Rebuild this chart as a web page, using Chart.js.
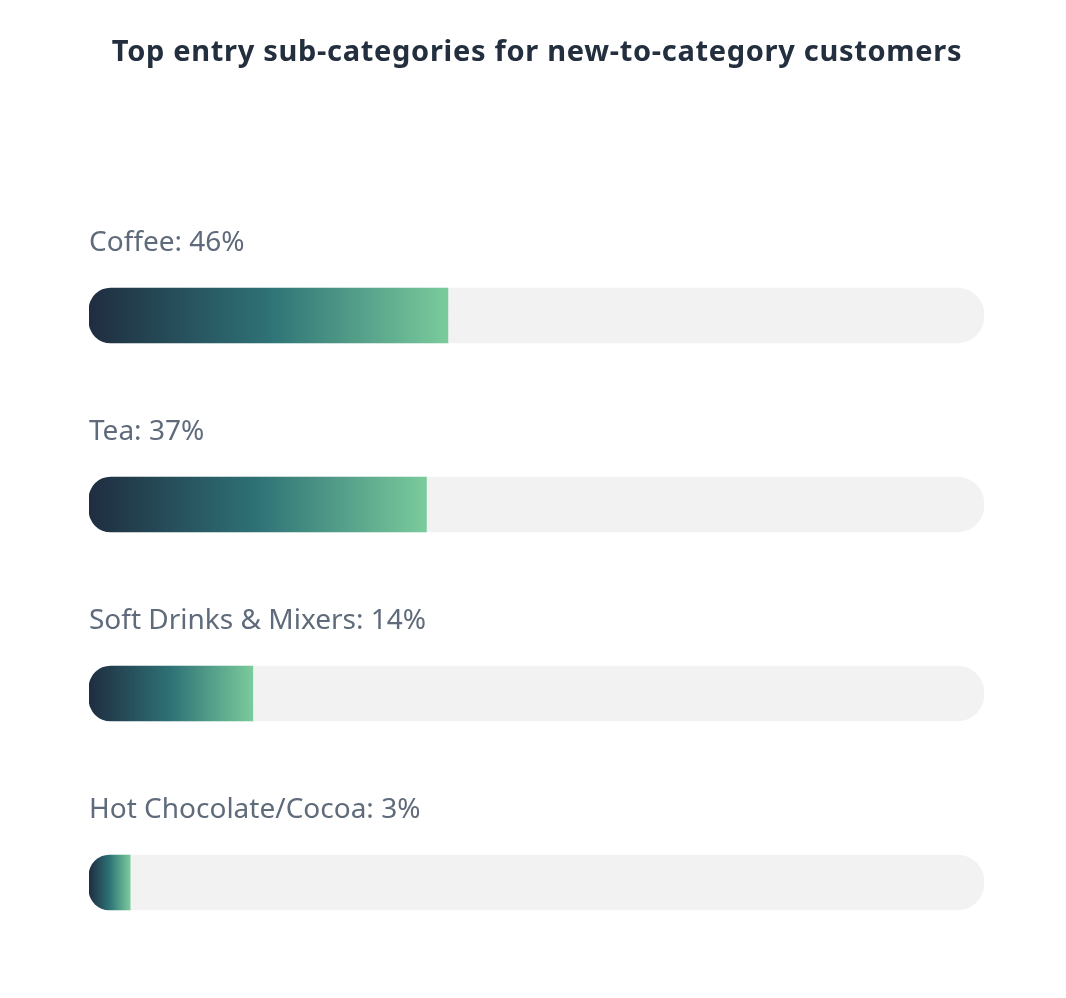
<!DOCTYPE html>
<html>
<head>
<meta charset="utf-8">
<script src="https://cdn.jsdelivr.net/npm/chart.js@4/dist/chart.umd.min.js"></script>
<style>
  html, body { margin: 0; padding: 0; background: #ffffff; }
  #wrap { width: 1066px; height: 998px; }
</style>
</head>
<body>
<div id="wrap"><canvas id="c" width="1066" height="998"></canvas></div>
<script>
const categories = ["Coffee", "Tea", "Soft Drinks & Mixers", "Hot Chocolate/Cocoa"];
const shares = [46, 37, 14, 3];            // percentages shown in the labels
const barFill = [40.1, 37.7, 18.3, 4.6];   // bar lengths (% of track)
const trackMax = [100, 100, 100, 100];
const titleText = 'Top entry sub-categories for new-to-category customers';

const LEFT = 89, RIGHT = 984;

const labelPlugin = {
  id: 'rowLabels',
  afterDatasetsDraw(chart) {
    const ctx = chart.ctx;
    const meta = chart.getDatasetMeta(1);
    ctx.save();
    ctx.font = '28px "Noto Sans", sans-serif';
    ctx.fillStyle = '#5f6b7a';
    ctx.textAlign = 'left';
    ctx.textBaseline = 'alphabetic';
    meta.data.forEach((bar, i) => {
      const top = bar.y - bar.height / 2;
      ctx.fillText(categories[i] + ': ' + shares[i] + '%', chart.chartArea.left, top - 37);
    });
    // title
    ctx.font = 'bold 29px "Noto Sans", sans-serif';
    ctx.fillStyle = '#232f3e';
    ctx.textAlign = 'center';
    if ('letterSpacing' in ctx) ctx.letterSpacing = '0.7px';
    ctx.fillText(titleText, chart.width / 2 + 4, 61);
    ctx.restore();
  }
};

function fillGradient(context) {
  const chart = context.chart;
  const area = chart.chartArea;
  if (!area) return '#2e7276';
  const xScale = chart.scales.x;
  const x0 = xScale.getPixelForValue(0);
  const x1 = xScale.getPixelForValue(barFill[context.dataIndex]);
  const g = chart.ctx.createLinearGradient(x0, 0, x1, 0);
  g.addColorStop(0, '#1f2d40');
  g.addColorStop(0.5, '#2e7276');
  g.addColorStop(1, '#7acb9c');
  return g;
}

new Chart(document.getElementById('c'), {
  type: 'bar',
  data: {
    labels: categories,
    datasets: [
      {
        label: 'track',
        data: trackMax,
        backgroundColor: '#f2f2f2',
        borderRadius: 27,
        borderSkipped: false,
        barThickness: 55,
        grouped: false,
        order: 2
      },
      {
        label: 'share',
        data: barFill,
        backgroundColor: fillGradient,
        borderRadius: { topLeft: 22, bottomLeft: 22, topRight: 0, bottomRight: 0 },
        borderSkipped: false,
        barThickness: 55,
        grouped: false,
        order: 1
      }
    ]
  },
  options: {
    indexAxis: 'y',
    responsive: false,
    animation: false,
    layout: { padding: { left: LEFT, right: 1066 - RIGHT, top: 221, bottom: 21 } },
    scales: {
      x: { min: 0, max: 100, display: false },
      y: { display: false }
    },
    plugins: {
      legend: { display: false },
      tooltip: { enabled: false },
      title: { display: false }
    }
  },
  plugins: [labelPlugin]
});
</script>
</body>
</html>
